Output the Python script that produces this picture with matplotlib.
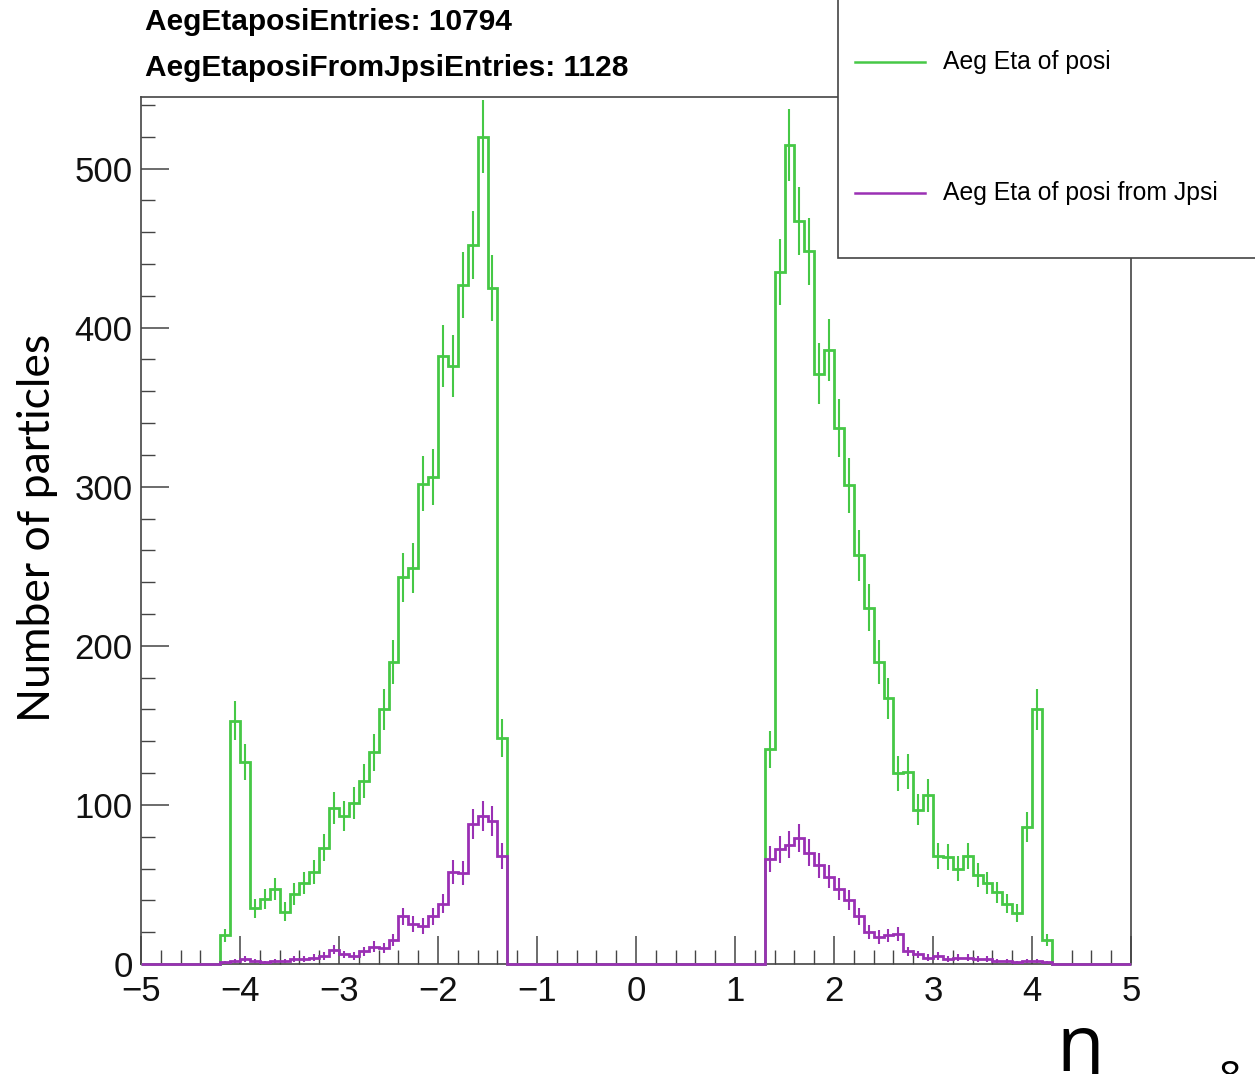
import numpy as np
import matplotlib
matplotlib.use("Agg")
import matplotlib.pyplot as plt
from matplotlib.patches import Rectangle
from matplotlib.lines import Line2D
from matplotlib.ticker import MultipleLocator

plt.rcParams['font.family'] = ['Liberation Sans', 'DejaVu Sans']

# eta histograms, 0.1 wide bins on [-5, 5]
bin_lo, bin_hi, n_bins = -5.0, 5.0, 100
left_start, right_start = -4.2, 1.3

posi_left = [18, 153, 127, 35, 41, 47, 33, 44, 51, 58, 73, 98, 93, 101, 115,
             133, 160, 190, 243, 249, 302, 306, 382, 376, 427, 452, 520, 425, 142]
posi_right = [135, 435, 515, 467, 448, 371, 386, 337, 301, 257, 224, 190, 167, 120,
              121, 97, 106, 68, 67, 60, 68, 56, 51, 45, 38, 32, 86, 160, 15]
jpsi_left = [1, 2, 3, 2, 1, 2, 2, 3, 3, 4, 5, 9, 6, 5, 8, 11, 10, 15,
             30, 25, 24, 30, 38, 58, 57, 88, 93, 90, 68]
jpsi_right = [66, 72, 75, 79, 70, 62, 55, 47, 40, 30, 20, 17, 18, 19, 8, 6, 4, 5,
              3, 4, 4, 3, 3, 2, 2, 1, 2, 2, 1]

labels = ['Aeg Eta of posi', 'Aeg Eta of posi from Jpsi']
stats = ['AegEtaposiEntries: 10794', 'AegEtaposiFromJpsiEntries: 1128']
green = '#46c846'
purple = '#9a30b4'

edges = np.linspace(bin_lo, bin_hi, n_bins + 1)
centers = 0.5 * (edges[:-1] + edges[1:])


def fill(left, right):
    h = np.zeros(n_bins)
    i0 = int(round((left_start - bin_lo) * 10))
    i1 = int(round((right_start - bin_lo) * 10))
    h[i0:i0 + len(left)] = left
    h[i1:i1 + len(right)] = right
    return h


h_posi = fill(posi_left, posi_right)
h_jpsi = fill(jpsi_left, jpsi_right)

W, H = 1255, 1074
fig = plt.figure(figsize=(W / 100, H / 100), dpi=100)
ax = fig.add_axes([141 / W, 1 - 964 / H, 990 / W, (964 - 97) / H])

for h, c in [(h_posi, green), (h_jpsi, purple)]:
    ax.stairs(h, edges, color=c, lw=2.0, baseline=0, clip_on=False, zorder=3)
    nz = h > 0
    err = np.sqrt(h[nz])
    ax.vlines(centers[nz], h[nz] - err, h[nz] + err, color=c, lw=1.5, zorder=3)

ax.set_xlim(-5, 5)
ax.set_ylim(0, 545)
ax.xaxis.set_major_locator(MultipleLocator(1))
ax.xaxis.set_minor_locator(MultipleLocator(0.2))
ax.yaxis.set_major_locator(MultipleLocator(100))
ax.yaxis.set_minor_locator(MultipleLocator(20))
ax.tick_params(which='both', direction='in', top=False, right=False,
               colors='#444444', labelcolor='#111111')
ax.tick_params(which='major', length=20, width=1.1, labelsize=25)
ax.tick_params(which='minor', length=10, width=1.0)
ax.tick_params(axis='x', pad=8)
ax.tick_params(axis='y', pad=6)
for sp in ax.spines.values():
    sp.set_color('#444444')
    sp.set_linewidth(1.2)

fig.text(38 / W, 1 - 528 / H, 'Number of particles', rotation=90,
         ha='center', va='center', fontsize=32, family=['Lato', 'DejaVu Sans'])
fig.text(1080 / W, 1 - 1050 / H, 'η', ha='center', va='center', fontsize=56,
         family=['Open Sans', 'DejaVu Sans'])
fig.text(1230 / W, 1 - 1060 / H, '8', ha='center', va='top', fontsize=28,
         family=['Open Sans', 'DejaVu Sans'])

fig.text(145 / W, 1 - 22 / H, stats[0], ha='left', va='center',
         fontsize=21.5, fontweight='bold')
fig.text(145 / W, 1 - 68 / H, stats[1], ha='left', va='center',
         fontsize=21.5, fontweight='bold')

# legend box
fig.patches.append(Rectangle((838 / W, 1 - 258 / H), 430 / W, 270 / H,
                             transform=fig.transFigure, facecolor='white',
                             edgecolor='#444444', lw=1.2, zorder=5))
for yy, c, lab in [(62, green, labels[0]), (193, purple, labels[1])]:
    fig.lines.append(Line2D([855 / W, 925 / W], [1 - yy / H, 1 - yy / H],
                            transform=fig.transFigure, color=c, lw=1.8, zorder=6))
    fig.text(943 / W, 1 - yy / H, lab, ha='left', va='center', fontsize=17.8,
             zorder=7)

fig.savefig('out.png', dpi=100)
